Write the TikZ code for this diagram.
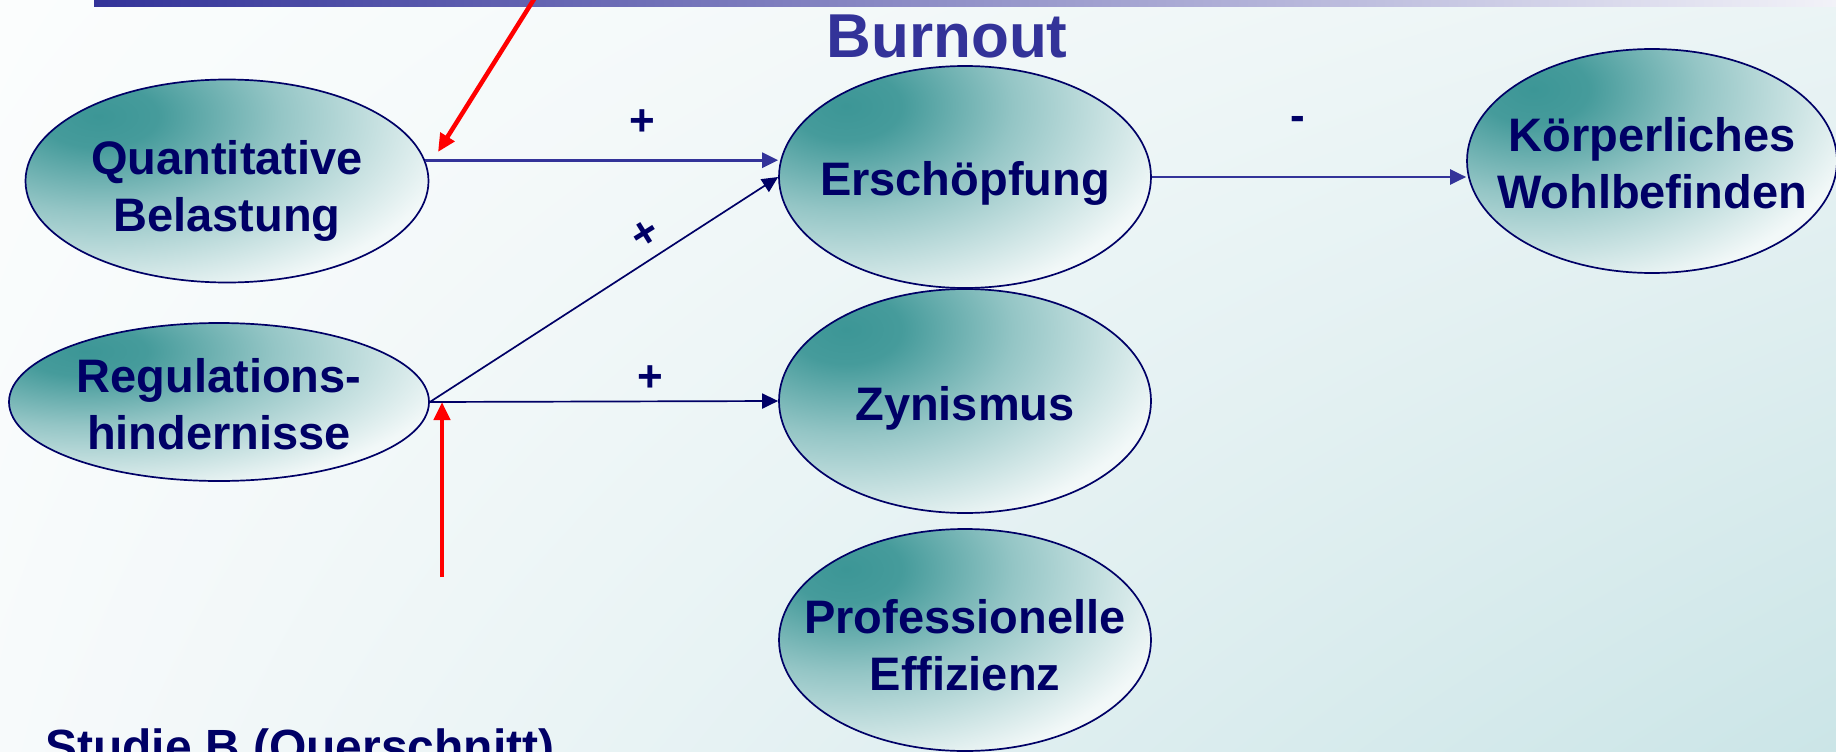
\documentclass[tikz,border=0pt]{standalone}
\usepackage{fontspec}
\setmainfont{Liberation Sans}
\usetikzlibrary{shapes.geometric,arrows.meta,calc,shadings}
\definecolor{navy}{HTML}{000066}
\definecolor{slate}{HTML}{333399}
\definecolor{ellteal}{HTML}{3C9696}
\definecolor{bgUL}{HTML}{FBFDFD}
\definecolor{bgLL}{HTML}{F7FAFB}
\definecolor{bgUR}{HTML}{EBF4F5}
\definecolor{bgLR}{HTML}{CBE5E7}
\definecolor{barR}{HTML}{F2F2F8}
\pgfdeclareradialshading{ellsh}{\pgfpointorigin}{color(0bp)=(ellteal); color(3bp)=(ellteal!95!white); color(9bp)=(ellteal!55!white); color(18bp)=(white!93!ellteal); color(25bp)=(white); color(50bp)=(white)}
\tikzset{
  ell/.style n args={2}{draw=navy, line width=1.7pt, ellipse, inner sep=0pt,
    minimum width=#1, minimum height=#2,
    path picture={
      \fill[white] (path picture bounding box.south west) rectangle (path picture bounding box.north east);
      \shade[shading=ellsh] ($(path picture bounding box.north west)!0.18!(path picture bounding box.south east)$)
        ellipse [x radius={1.25*#1}, y radius={1.3*#2}];
    }},
  txt/.style={font=\fontsize{47}{57}\selectfont\bfseries, text=navy, align=center, inner sep=0pt},
  sign/.style={font=\fontsize{44}{50}\selectfont\bfseries, text=navy, inner sep=0pt},
  arrA/.style={draw=slate, line width=2.7pt, -{Triangle[length=16pt,width=15pt]}},
  arrB/.style={draw=navy, line width=1.7pt, -{Triangle[length=16pt,width=15pt]}},
  redarr/.style={draw=red, line width=4.5pt, -{Triangle[length=18pt,width=16pt]}}
}
\begin{document}
\begin{tikzpicture}[x=1pt,y=-1pt]
\useasboundingbox (0,0) rectangle (1836,752);
\clip (0,0) rectangle (1836,752);
% background
\shade[upper left=bgUL, upper right=bgUR, lower left=bgLL, lower right=bgLR] (0,0) rectangle (1836,752);
\shade[left color=slate, right color=barR] (94,0) rectangle (1836,7);

% title
\node[anchor=base, font=\fontsize{62}{70}\selectfont\bfseries, text=slate] (title) at (947,58) {Burnout};

% ellipses
\node[ell={403pt}{203pt}] (quant) at (227,181) {};
\node[ell={420pt}{158pt}] (regul) at (219,402) {};
\node[ell={372pt}{222pt}] (ersch) at (965,177) {};
\node[ell={372pt}{224pt}] (zyn) at (965,401) {};
\node[ell={372pt}{222pt}] (prof) at (965,640) {};
\node[ell={370pt}{224pt}] (koerp) at (1652,161) {};

% texts
\node[txt] (quantT) at (227,191) {Quantitative\\Belastung};
\node[txt] (regulT) at (219,404) {Regulations-\\hindernisse};
\node[txt] (erschT) at (965,183) {Erschöpfung};
\node[txt] (zynT) at (965,408) {Zynismus};
\node[txt] (profT) at (965,645) {Professionelle\\Effizienz};
\node[txt] (koerpT) at (1652,163) {Körperliches\\Wohlbefinden};

% connectors
\draw[arrA] (quant.6) -- (quant.6 -| ersch.west);
\draw[arrB] (regul.east) -- (ersch.west);
\draw[arrB] (regul.east) -- (zyn.west);
\draw[arrA] (ersch.east) -- (ersch.east -| koerp.west);

% signs
\node[sign] (s1) at (642,123) {+};
\node[sign, rotate=32] (s2) at (646,235) {+};
\node[sign] (s3) at (650,379) {+};
\node[sign] (s4) at (1298,123) {-};

% red arrows
\coordinate (r1a) at (536,-4);
\coordinate (r1b) at (438,152);
\draw[redarr] (r1a) -- (r1b);
\coordinate (r2a) at (442,577);
\coordinate (r2b) at (442,402);
\draw[redarr] (r2a) -- (r2b);

% footer
\node[anchor=base west, font=\fontsize{48}{56}\selectfont\bfseries, text=navy, inner sep=0pt] (studie) at (45,763) {Studie B (Querschnitt)};
\end{tikzpicture}
\end{document}
